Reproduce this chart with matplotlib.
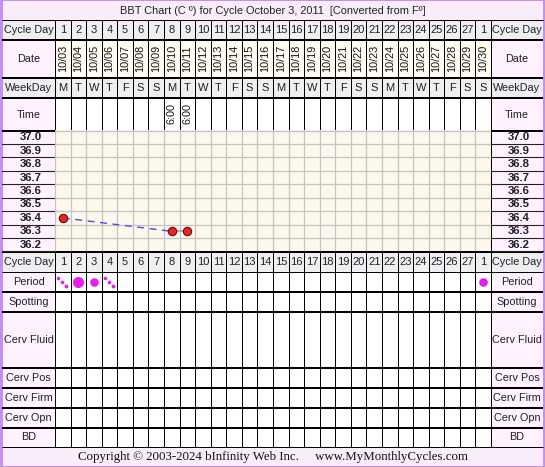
import numpy as np
import matplotlib
matplotlib.use("Agg")
import matplotlib.pyplot as plt
from matplotlib.patches import Rectangle
import matplotlib.transforms as mtransforms

# ---------------- data ----------------
cycle_days = [str(d) for d in range(1, 28)] + ["1"]
dates = ["10/%02d" % d for d in range(3, 31)]
weekdays = ["M", "T", "W", "T", "F", "S", "S"] * 4
times = [""] * 7 + ["6:00", "6:00"] + [""] * 19
temps = [36.4, None, None, None, None, None, None, 36.3, 36.3] + [None] * 19
temp_labels = [37.0, 36.9, 36.8, 36.7, 36.6, 36.5, 36.4, 36.3, 36.2]
period = ["spot", "heavy", "medium", "spot"] + [None] * 23 + ["medium"]
row_names = ["Spotting", "Cerv Fluid", "Cerv Pos", "Cerv Firm", "Cerv Opn", "BD"]
title = "BBT Chart (C \u00ba) for Cycle October 3, 2011  [Converted from F\u00ba]"
footer = "Copyright \u00a9 2003-2024 bInfinity Web Inc.     www.MyMonthlyCycles.com"

# ---------------- layout (pixels) ----------------
W, H = 545, 467
XL0, XL1 = 2, 55      # left label column
XR0, XR1 = 491, 543   # right label column
N = len(cycle_days)
cw = (XR0 - XL1) / N

def cx(i):
    return XL1 + (i + 0.5) * cw

rows = {
    "title": (1, 19.5), "cycle": (20, 39.5), "date": (39.5, 77.5),
    "week": (77.5, 97.5), "time": (97.5, 130.5), "temp": (130.5, 251.5),
    "cycle2": (251.5, 271.5), "period": (271.5, 291.5), "Spotting": (291.5, 311.5),
    "Cerv Fluid": (311.5, 367.5), "Cerv Pos": (367.5, 387.5), "Cerv Firm": (387.5, 407.5),
    "Cerv Opn": (407.5, 427.5), "BD": (427.5, 446.5), "foot": (446.5, 466),
}

FONT = "Liberation Sans"
TXT = "#1e1e30"
LBL_BG = "#fff2fe"
GRAY_BG = "#efefef"
CREAM = "#fdf8ec"
PURPLE = "#c48ff0"

fig = plt.figure(figsize=(W / 100, H / 100), dpi=100)
fig.patch.set_facecolor(PURPLE)
bg = fig.add_axes([0, 0, 1, 1])
bg.set_xlim(0, W)
bg.set_ylim(H, 0)
bg.axis("off")

def rect(x0, y0, x1, y1, fc):
    bg.add_patch(Rectangle((x0, y0), x1 - x0, y1 - y0, facecolor=fc, edgecolor="none", zorder=0))

def hline(y, x0, x1, lw=1, c="black", z=3):
    bg.plot([x0, x1], [y, y], color=c, lw=lw * 0.72, zorder=z, solid_capstyle="butt")

def vline(x, y0, y1, lw=1, c="black", z=3):
    bg.plot([x, x], [y0, y1], color=c, lw=lw * 0.72, zorder=z, solid_capstyle="butt")

# inner white area
rect(XL0, 1, XR1, 466, "white")
# title bar and footer
rect(XL0, 1, XR1, 19.5, "#f8edf8")
rect(XL0, 446.5, XR1, 466, "#f8edf8")
bg.text(W / 2, 10.5, title, ha="center", va="center", fontsize=7.9, family=FONT, color="#222")
bg.text(W / 2, 457, footer, ha="center", va="center", fontsize=9.3,
        family="Liberation Serif", color="#111")

# label columns background
for key in ["cycle", "date", "week", "time", "temp", "cycle2", "period"] + row_names:
    y0, y1 = rows[key]
    fc = GRAY_BG if key in ("cycle", "week", "cycle2") else LBL_BG
    rect(XL0, y0, XL1, y1, fc)
    rect(XR0, y0, XR1, y1, fc)

# data cell backgrounds
rect(XL1, rows["cycle"][0], XR0, rows["cycle"][1], GRAY_BG)
rect(XL1, rows["date"][0], XR0, rows["date"][1], "#fffcf1")
rect(XL1, rows["week"][0], XR0, rows["week"][1], GRAY_BG)
rect(XL1, rows["cycle2"][0], XR0, rows["cycle2"][1], GRAY_BG)

# row labels
labels = {"cycle": "Cycle Day", "date": "Date", "week": "WeekDay", "time": "Time",
          "cycle2": "Cycle Day", "period": "Period"}
labels.update({k: k for k in row_names})
for key, lab in labels.items():
    y0, y1 = rows[key]
    for xc in ((XL0 + XL1) / 2, (XR0 + XR1) / 2):
        bg.text(xc, (y0 + y1) / 2 + 0.5, lab, ha="center", va="center", fontsize=7.8,
                family=FONT, color=TXT)

# header cells text
for i in range(N):
    x = cx(i)
    for key in ("cycle", "cycle2"):
        y0, y1 = rows[key]
        bg.text(x, (y0 + y1) / 2 + 0.5, cycle_days[i], ha="center", va="center",
                fontsize=8, family=FONT, color=TXT)
    y0, y1 = rows["date"]
    bg.text(x, (y0 + y1) / 2, dates[i], ha="center", va="center", rotation=90,
            fontsize=7.8, family=FONT, color="#111")
    y0, y1 = rows["week"]
    bg.text(x, (y0 + y1) / 2 + 0.5, weekdays[i], ha="center", va="center",
            fontsize=8, family=FONT, color=TXT)
    if times[i]:
        y0, y1 = rows["time"]
        bg.text(x, (y0 + y1) / 2, times[i], ha="center", va="center", rotation=90,
                fontsize=7.8, family=FONT, color="#111")

# period markers
py = sum(rows["period"]) / 2
PCOL = "#ea1eea"
for i, p in enumerate(period):
    x = cx(i)
    if p == "heavy":
        bg.plot(x, py, "o", ms=8.0, color=PCOL, mec="none", zorder=4)
    elif p == "medium":
        bg.plot(x, py, "o", ms=6.2, color=PCOL, mec="none", zorder=4)
    elif p == "spot":
        for dx, dy, s in ((-4.5, -3.5, 2.6), (-0.5, 0.5, 2.6), (3.5, 4.0, 2.8)):
            bg.plot(x + dx, py + dy, "o", ms=s, color=PCOL, mec="none", zorder=4)

# ---------------- temperature axes ----------------
t0, t1 = rows["temp"]
ax = fig.add_axes([XL1 / W, 1 - t1 / H, (XR0 - XL1) / W, (t1 - t0) / H])
ax.set_facecolor(CREAM)
ax.set_xlim(0.5, N + 0.5)
ax.set_ylim(36.15, 37.05)
ax.set_xticks(np.arange(0.5, N + 1, 1.0))
ax.set_yticks(np.arange(36.15, 37.06, 0.1))
ax.grid(True, color="#c4c4c4", lw=0.9)
ax.tick_params(length=0, labelbottom=False, labelleft=False)
for s in ax.spines.values():
    s.set_visible(False)

days = np.arange(1, N + 1)
tv = np.array([np.nan if t is None else t for t in temps])
valid = [i for i in range(N) if not np.isnan(tv[i])]
for a, b in zip(valid[:-1], valid[1:]):
    if b - a == 1:
        ax.plot(days[[a, b]], tv[[a, b]], color="#f08a8a", lw=1.3, zorder=3)
    else:
        ax.plot(days[[a, b]], tv[[a, b]], color="#4a4ae8", lw=1.0, ls=(0, (5, 4)), zorder=3)
ax.plot(days, tv, "o", ls="none", ms=6.0, mfc="#ee2424", mec="#551111", mew=0.8, zorder=4)

# temperature label cells (pixel x, temperature y)
tr = mtransforms.blended_transform_factory(bg.transData, ax.transData)
for v in temp_labels:
    for xa, xb in ((XL0, XL1), (XR0, XR1)):
        bg.text((xa + xb) / 2 + 2, v, "%.1f" % v, transform=tr, ha="center", va="center",
                fontsize=8.2, fontweight="bold", family=FONT, color=TXT, zorder=5)
        bg.plot([xa, xb], [v - 0.05, v - 0.05], transform=tr, color="#222", lw=0.8, zorder=5)

# ---------------- grid lines ----------------
xs = [XL1 + k * cw for k in range(N + 1)]
for x in xs:
    vline(x, 20, 130.5)
    vline(x, 251.5, 446.5)
for x in (XL1, XR0):
    vline(x, 130.5, 251.5)
vline(XL0 - 0.5, 1, 466, c=PURPLE, lw=2)
vline(XR1 + 0.5, 1, 466, c=PURPLE, lw=2)

hline(20, XL0, XR1, lw=1)
for key in ("cycle", "date", "week", "time", "temp", "period", "Spotting", "Cerv Fluid",
            "Cerv Pos", "Cerv Firm", "Cerv Opn"):
    hline(rows[key][1], XL0, XR1, lw=2)
hline(rows["cycle2"][1], XL0, XR1, lw=1)
hline(rows["BD"][1], XL0, XR1, lw=1)

fig.savefig("out.png", dpi=100, facecolor=PURPLE)
